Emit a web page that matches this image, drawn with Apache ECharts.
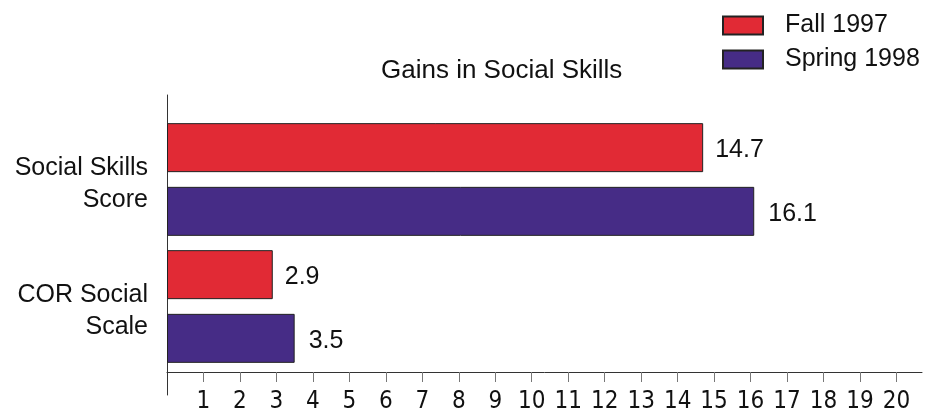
<!DOCTYPE html>
<html>
<head>
<meta charset="utf-8">
<script src="https://cdn.jsdelivr.net/npm/echarts@6/dist/echarts.min.js"></script>
<style>
  html, body { margin: 0; padding: 0; background: #fff; }
  #chart { width: 928px; height: 408px; }
</style>
</head>
<body>
<div id="chart"></div>
<script>
// 数据
var categories = ['Social Skills\nScore', 'COR Social\nScale'];
var fall1997 = [14.7, 2.9];
var spring1998 = [16.1, 3.5];
var tickValues = [1, 2, 3, 4, 5, 6, 7, 8, 9, 10, 11, 12, 13, 14, 15, 16, 17, 18, 19, 20];

var FONT = '"Liberation Sans", Arial, sans-serif';
var NARROW = '"Liberation Sans Narrow", "Arial Narrow", "DejaVu Sans Condensed", sans-serif';

var option = {
  backgroundColor: '#fff',
  animation: false,
  title: {
    text: 'Gains in Social Skills',
    left: 376,
    top: 53,
    textStyle: { fontFamily: FONT, fontSize: 26, fontWeight: 'normal', color: '#111' }
  },
  legend: {
    orient: 'vertical',
    left: 717,
    top: 8,
    itemWidth: 40,
    itemHeight: 18,
    itemGap: 9,
    icon: 'rect',
    selectedMode: false,
    data: ['Fall 1997', 'Spring 1998'],
    textStyle: { fontFamily: FONT, fontSize: 25, color: '#111', padding: [0, 0, 0, 17] }
  },
  grid: [
    { left: 167, right: 6, top: 116, bottom: 38, containLabel: false, outerBoundsMode: 'none' },
    // 延长的纵轴线
    { left: 167, width: 10, top: 95, bottom: 13, containLabel: false, outerBoundsMode: 'none' }
  ],
  xAxis: [
    {
      gridIndex: 0,
      type: 'value',
      min: 0,
      max: 20.7,
      offset: 2,
      splitLine: { show: false },
      axisLine: { show: true, lineStyle: { color: '#333', width: 1 } },
      axisTick: { show: true, length: 10, customValues: tickValues, lineStyle: { color: '#777' } },
      axisLabel: {
        customValues: tickValues,
        margin: 18,
        fontFamily: NARROW,
        fontSize: 24,
        color: '#111'
      }
    },
    { gridIndex: 1, type: 'value', show: false }
  ],
  yAxis: [
    {
      gridIndex: 0,
      type: 'category',
      inverse: true,
      data: categories,
      axisLine: { show: false },
      axisTick: { show: false },
      axisLabel: {
        margin: 19,
        formatter: function (v) { return '{c|' + v.split('\n').join('}\n{c|') + '}'; },
        rich: {
          c: {
            fontFamily: FONT,
            fontSize: 25,
            lineHeight: 32,
            padding: [9, 0, 0, 0],
            color: '#111',
            align: 'right'
          }
        },
        align: 'right'
      }
    },
    {
      gridIndex: 1,
      type: 'value',
      axisLine: { show: true, lineStyle: { color: '#333', width: 1 } },
      axisTick: { show: false },
      axisLabel: { show: false },
      splitLine: { show: false }
    }
  ],
  series: [
    {
      name: 'Fall 1997',
      type: 'bar',
      xAxisIndex: 0,
      yAxisIndex: 0,
      data: fall1997,
      barWidth: 49,
      barGap: '30%',
      itemStyle: { color: '#e12a35', borderColor: '#222', borderWidth: 1 },
      label: {
        show: true, position: 'right', distance: 12, offset: [0, 2],
        fontFamily: FONT, fontSize: 25, color: '#111'
      }
    },
    {
      name: 'Spring 1998',
      type: 'bar',
      xAxisIndex: 0,
      yAxisIndex: 0,
      data: spring1998,
      barWidth: 49,
      barGap: '30%',
      itemStyle: { color: '#462c86', borderColor: '#222', borderWidth: 1 },
      label: {
        show: true, position: 'right', distance: 14, offset: [0, 3],
        fontFamily: FONT, fontSize: 25, color: '#111'
      }
    }
  ]
};

var chart = echarts.init(document.getElementById('chart'), null, { renderer: 'canvas' });
chart.setOption(option);
</script>
</body>
</html>
